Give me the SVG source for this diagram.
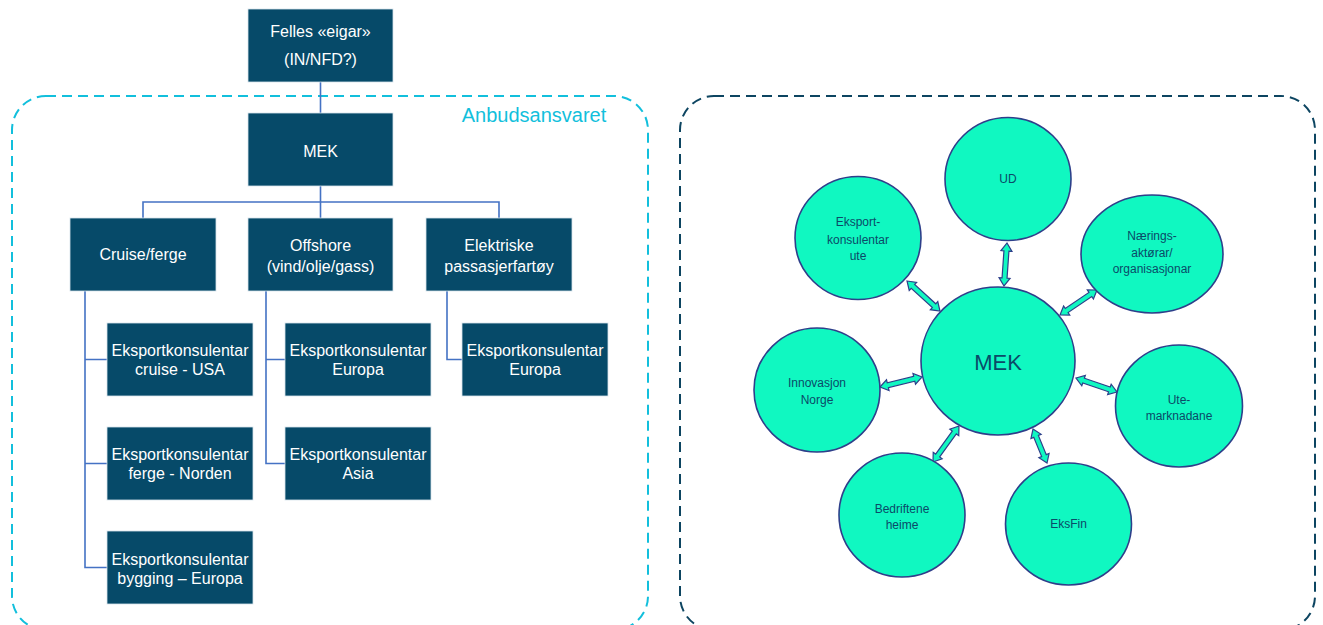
<svg xmlns="http://www.w3.org/2000/svg" width="1323" height="625" viewBox="0 0 1323 625">
<style>
.box{fill:#064a69;stroke:#d8e4ec;stroke-width:0.8}
.bt{font-family:"Liberation Sans",Arial,sans-serif;font-size:16px;fill:#ffffff;text-anchor:middle;dominant-baseline:central}
.conn{fill:none;stroke:#4472c4;stroke-width:1.6}
.circ{fill:#10f8c1;stroke:#2e3f8a;stroke-width:1.6}
.ct{font-family:"Liberation Sans",Arial,sans-serif;font-size:12px;fill:#0b4a68;text-anchor:middle;dominant-baseline:central}
.big{font-size:22px}
.arr{fill:#10f8c1;stroke:#2e3f8a;stroke-width:1.2;stroke-linejoin:miter}
</style>
<rect width="1323" height="625" fill="#ffffff"/>
<!-- frames -->
<g id="frame-anbud">
<rect x="12" y="96" width="636" height="534" rx="34" fill="none" stroke="#12bfdc" stroke-width="2" stroke-dasharray="10,6"/>
<text x="534" y="115" font-family="Liberation Sans,Arial,sans-serif" font-size="20" fill="#12bfdc" text-anchor="middle" dominant-baseline="central">Anbudsansvaret</text>
</g>
<g id="frame-right">
<rect x="680" y="96" width="635" height="534" rx="34" fill="none" stroke="#0d4561" stroke-width="2" stroke-dasharray="10,6"/>
</g>
<!-- connectors -->
<g id="connectors">
<path class="conn" d="M320.5,82 V113"/>
<path class="conn" d="M320.5,186 V202 M143,218 V202 H499 V218 M320.5,202 V218"/>
<path class="conn" d="M85,291 V567.5 H107 M85,359.5 H107 M85,463.5 H107"/>
<path class="conn" d="M266,291 V463.5 H285 M266,359.5 H285"/>
<path class="conn" d="M447,291 V359.5 H462"/>
</g>
<!-- org boxes -->
<g id="felles"><rect class="box" x="248" y="9" width="145" height="73"/><text class="bt" x="320.5" y="31">Felles «eigar»</text><text class="bt" x="320.5" y="59">(IN/NFD?)</text></g>
<g id="mek-box"><rect class="box" x="248" y="113" width="145" height="73"/><text class="bt" x="320.5" y="151">MEK</text></g>
<g id="cruise"><rect class="box" x="70" y="218" width="146" height="73"/><text class="bt" x="143" y="254">Cruise/ferge</text></g>
<g id="offshore"><rect class="box" x="248" y="218" width="145" height="73"/><text class="bt" x="320.5" y="245">Offshore</text><text class="bt" x="320.5" y="266">(vind/olje/gass)</text></g>
<g id="elektriske"><rect class="box" x="426" y="218" width="146" height="73"/><text class="bt" x="499" y="245">Elektriske</text><text class="bt" x="499" y="266">passasjerfartøy</text></g>
<g id="ek-cruise-usa"><rect class="box" x="107" y="323" width="146" height="73"/><text class="bt" x="180" y="350">Eksportkonsulentar</text><text class="bt" x="180" y="369">cruise - USA</text></g>
<g id="ek-ferge-norden"><rect class="box" x="107" y="427" width="146" height="73"/><text class="bt" x="180" y="454">Eksportkonsulentar</text><text class="bt" x="180" y="473">ferge - Norden</text></g>
<g id="ek-bygging-europa"><rect class="box" x="107" y="531" width="146" height="73"/><text class="bt" x="180" y="559">Eksportkonsulentar</text><text class="bt" x="180" y="578">bygging – Europa</text></g>
<g id="ek-offshore-europa"><rect class="box" x="285" y="323" width="146" height="73"/><text class="bt" x="358" y="350">Eksportkonsulentar</text><text class="bt" x="358" y="369">Europa</text></g>
<g id="ek-offshore-asia"><rect class="box" x="285" y="427" width="146" height="73"/><text class="bt" x="358" y="454">Eksportkonsulentar</text><text class="bt" x="358" y="473">Asia</text></g>
<g id="ek-elektr-europa"><rect class="box" x="462" y="323" width="146" height="73"/><text class="bt" x="535" y="350">Eksportkonsulentar</text><text class="bt" x="535" y="369">Europa</text></g>
<!-- arrows -->
<g id="arrows">
<path class="arr" transform="translate(1007,243) rotate(94)" d="M0,0 L8,-5.5 L8,-2.5 L35.1,-2.5 L35.1,-5.5 L43.1,0 L35.1,5.5 L35.1,2.5 L8,2.5 L8,5.5 Z"/>
<path class="arr" transform="translate(907,281) rotate(42.3)" d="M0,0 L8,-5.5 L8,-2.5 L36.6,-2.5 L36.6,-5.5 L44.6,0 L36.6,5.5 L36.6,2.5 L8,2.5 L8,5.5 Z"/>
<path class="arr" transform="translate(1097,290) rotate(146)" d="M0,0 L8,-5.5 L8,-2.5 L36.6,-2.5 L36.6,-5.5 L44.6,0 L36.6,5.5 L36.6,2.5 L8,2.5 L8,5.5 Z"/>
<path class="arr" transform="translate(880,387) rotate(-13.4)" d="M0,0 L8,-5.5 L8,-2.5 L35.2,-2.5 L35.2,-5.5 L43.2,0 L35.2,5.5 L35.2,2.5 L8,2.5 L8,5.5 Z"/>
<path class="arr" transform="translate(1076,378) rotate(18.85)" d="M0,0 L8,-5.5 L8,-2.5 L35.3,-2.5 L35.3,-5.5 L43.3,0 L35.3,5.5 L35.3,2.5 L8,2.5 L8,5.5 Z"/>
<path class="arr" transform="translate(933,462) rotate(-54.2)" d="M0,0 L8,-5.5 L8,-2.5 L36.4,-2.5 L36.4,-5.5 L44.4,0 L36.4,5.5 L36.4,2.5 L8,2.5 L8,5.5 Z"/>
<path class="arr" transform="translate(1033,429) rotate(67.6)" d="M0,0 L8,-5.5 L8,-2.5 L28.8,-2.5 L28.8,-5.5 L36.8,0 L28.8,5.5 L28.8,2.5 L8,2.5 L8,5.5 Z"/>
</g>
<!-- circles -->
<g id="mek"><ellipse class="circ" cx="998" cy="361" rx="77" ry="74"/><text class="ct big" x="998" y="362">MEK</text></g>
<g id="ud"><ellipse class="circ" cx="1008" cy="179" rx="63" ry="61.5"/><text class="ct" x="1008" y="179">UD</text></g>
<g id="eksport-ute"><ellipse class="circ" cx="858" cy="238" rx="63" ry="61.5"/><text class="ct" x="858" y="222">Eksport-</text><text class="ct" x="858" y="240">konsulentar</text><text class="ct" x="858" y="256">ute</text></g>
<g id="naerings"><ellipse class="circ" cx="1152" cy="254" rx="71" ry="59"/><text class="ct" x="1152" y="236">Nærings-</text><text class="ct" x="1152" y="253">aktørar/</text><text class="ct" x="1152" y="269">organisasjonar</text></g>
<g id="innovasjon"><ellipse class="circ" cx="817" cy="390" rx="63" ry="62"/><text class="ct" x="817" y="383">Innovasjon</text><text class="ct" x="817" y="400">Norge</text></g>
<g id="ute"><ellipse class="circ" cx="1179" cy="406" rx="63.5" ry="61"/><text class="ct" x="1179" y="400">Ute-</text><text class="ct" x="1179" y="416">marknadane</text></g>
<g id="bedriftene"><ellipse class="circ" cx="902" cy="515" rx="63" ry="62"/><text class="ct" x="902" y="509">Bedriftene</text><text class="ct" x="902" y="525">heime</text></g>
<g id="eksfin"><ellipse class="circ" cx="1068.5" cy="524" rx="63" ry="61"/><text class="ct" x="1068.5" y="524">EksFin</text></g>
</svg>
